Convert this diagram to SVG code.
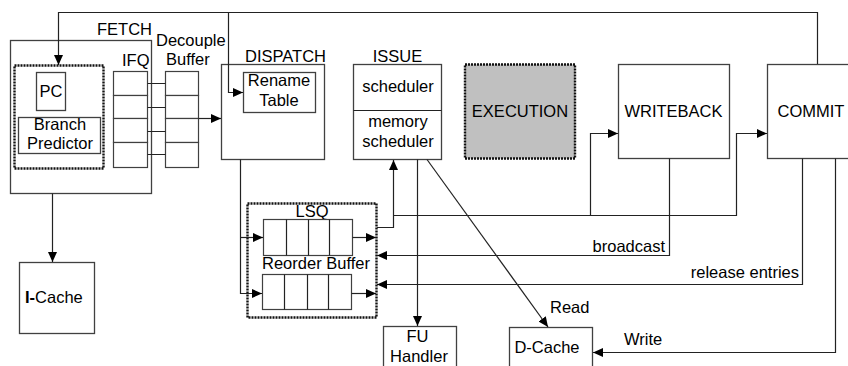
<svg xmlns="http://www.w3.org/2000/svg" width="848" height="366" viewBox="0 0 848 366">
<style>
.box{fill:#fff;stroke:#404040;stroke-width:1.3}
.dot{fill:none;stroke:#111;stroke-width:2.4;stroke-dasharray:2,1}
.cell{fill:#fff;stroke:#404040;stroke-width:1.2}
.ln{fill:none;stroke:#222;stroke-width:1.2}
.lbl{font-family:"Liberation Sans",Arial,sans-serif;font-size:16.5px;fill:#000}
.c{text-anchor:middle}
.e{text-anchor:end}
</style>
<defs>
<marker id="ah" markerUnits="userSpaceOnUse" markerWidth="11" markerHeight="10" refX="10" refY="4.5" orient="auto">
<path d="M0,0 L10,4.5 L0,9 z" fill="#000"/>
</marker>
</defs>
<rect width="848" height="366" fill="#fff"/>

<g id="fetch">
<rect class="box" x="10.5" y="40.5" width="141" height="153"/>
<text class="lbl" x="97" y="35">FETCH</text>
<rect class="dot" x="14.5" y="65.5" width="89" height="103"/>
<rect class="box" x="36.5" y="72.5" width="29" height="38"/>
<text class="lbl c" x="51" y="97">PC</text>
<rect class="box" x="18.5" y="117.5" width="82" height="36"/>
<text class="lbl c" x="60" y="130">Branch</text>
<text class="lbl c" x="60" y="149">Predictor</text>
</g>

<g id="ifq">
<text class="lbl" x="122" y="66">IFQ</text>
<rect class="cell" x="113.5" y="71.5" width="34" height="24"/>
<rect class="cell" x="113.5" y="95.5" width="34" height="23"/>
<rect class="cell" x="113.5" y="118.5" width="34" height="24"/>
<rect class="cell" x="113.5" y="142.5" width="34" height="25"/>
</g>

<g id="decouple-buffer">
<text class="lbl" x="156" y="46">Decouple</text>
<text class="lbl" x="166" y="65">Buffer</text>
<rect class="cell" x="165.5" y="71.5" width="33" height="24"/>
<rect class="cell" x="165.5" y="95.5" width="33" height="23"/>
<rect class="cell" x="165.5" y="118.5" width="33" height="24"/>
<rect class="cell" x="165.5" y="142.5" width="33" height="25"/>
</g>

<g id="dispatch">
<rect class="box" x="221.5" y="64.5" width="103" height="95"/>
<text class="lbl" x="245" y="62">DISPATCH</text>
<rect class="box" x="243.5" y="72.5" width="72" height="40"/>
<text class="lbl c" x="279" y="86">Rename</text>
<text class="lbl c" x="279" y="106">Table</text>
</g>

<g id="issue">
<rect class="box" x="353.5" y="64.5" width="88" height="95"/>
<line class="ln" x1="353.5" y1="110.5" x2="441.5" y2="110.5" stroke="#404040"/>
<text class="lbl c" x="397.5" y="62">ISSUE</text>
<text class="lbl c" x="398" y="92">scheduler</text>
<text class="lbl c" x="398" y="127">memory</text>
<text class="lbl c" x="398" y="147">scheduler</text>
</g>

<g id="execution">
<rect x="465" y="64.5" width="110" height="94" fill="#c0c0c0" stroke="#111" stroke-width="2.4" stroke-dasharray="2,1"/>
<text class="lbl c" x="520" y="117">EXECUTION</text>
</g>

<g id="writeback">
<rect class="box" x="618.5" y="64.5" width="111" height="94"/>
<text class="lbl c" x="673.5" y="117">WRITEBACK</text>
</g>

<g id="commit">
<rect class="box" x="767.5" y="64.5" width="90" height="94"/>
<text class="lbl c" x="811" y="117">COMMIT</text>
</g>

<g id="lsq-rob">
<rect class="dot" x="247.5" y="203.5" width="129" height="114"/>
<text class="lbl c" x="312" y="217">LSQ</text>
<rect class="cell" x="263.5" y="219.5" width="89" height="36"/>
<line class="ln" x1="286.5" y1="219.5" x2="286.5" y2="255.5" stroke="#404040"/>
<line class="ln" x1="308.5" y1="219.5" x2="308.5" y2="255.5" stroke="#404040"/>
<line class="ln" x1="329.5" y1="219.5" x2="329.5" y2="255.5" stroke="#404040"/>
<text class="lbl c" x="316" y="269">Reorder Buffer</text>
<rect class="cell" x="262.5" y="274.5" width="89" height="35"/>
<line class="ln" x1="284.5" y1="274.5" x2="284.5" y2="309.5" stroke="#404040"/>
<line class="ln" x1="307.5" y1="274.5" x2="307.5" y2="309.5" stroke="#404040"/>
<line class="ln" x1="328.5" y1="274.5" x2="328.5" y2="309.5" stroke="#404040"/>
</g>

<g id="icache">
<rect class="box" x="19.5" y="262.5" width="75" height="71"/>
<text class="lbl" x="25" y="303"><tspan font-weight="bold">I-</tspan>Cache</text>
</g>

<g id="fu-handler">
<rect class="box" x="383.5" y="326.5" width="73" height="50"/>
<text class="lbl c" x="417.5" y="342">FU</text>
<text class="lbl c" x="419" y="362">Handler</text>
</g>

<g id="dcache">
<rect class="box" x="509.5" y="327.5" width="83" height="50"/>
<text class="lbl c" x="547" y="353">D-Cache</text>
</g>

<g id="connectors">
<path class="ln" d="M817.5,64 V12.5 H58.5 V65" marker-end="url(#ah)"/>
<path class="ln" d="M228.5,12.5 V92.5 H243" marker-end="url(#ah)"/>
<path class="ln" d="M147.5,83.5 H165.5 M147.5,107.5 H165.5 M147.5,131.5 H165.5 M147.5,154.5 H165.5"/>
<path class="ln" d="M198.5,118.5 H221" marker-end="url(#ah)"/>
<path class="ln" d="M52.5,193.5 V262" marker-end="url(#ah)"/>
<path class="ln" d="M240.5,159.5 V293.5 H262" marker-end="url(#ah)"/>
<path class="ln" d="M240.5,237.5 H263" marker-end="url(#ah)"/>
<path class="ln" d="M352.5,237.5 H376" marker-end="url(#ah)"/>
<path class="ln" d="M351.5,293.5 H376" marker-end="url(#ah)"/>
<path class="ln" d="M377,227.5 H393.5 V160" marker-end="url(#ah)"/>
<path class="ln" d="M393.5,215.5 H736.5 V133.5 H767" marker-end="url(#ah)"/>
<path class="ln" d="M590.5,215.5 V133.5 H618" marker-end="url(#ah)"/>
<path class="ln" d="M669.5,158.5 V255.5 H377" marker-end="url(#ah)"/>
<text class="lbl e" x="665" y="252">broadcast</text>
<path class="ln" d="M802.5,158.5 V284.5 H377" marker-end="url(#ah)"/>
<text class="lbl e" x="799" y="278">release entries</text>
<path class="ln" d="M835.5,158.5 V352.5 H593" marker-end="url(#ah)"/>
<text class="lbl" x="624" y="345">Write</text>
<path class="ln" d="M417.5,159.5 V326" marker-end="url(#ah)"/>
<path class="ln" d="M427,159.5 L548,327" marker-end="url(#ah)"/>
<text class="lbl" x="550" y="313">Read</text>
</g>
</svg>
